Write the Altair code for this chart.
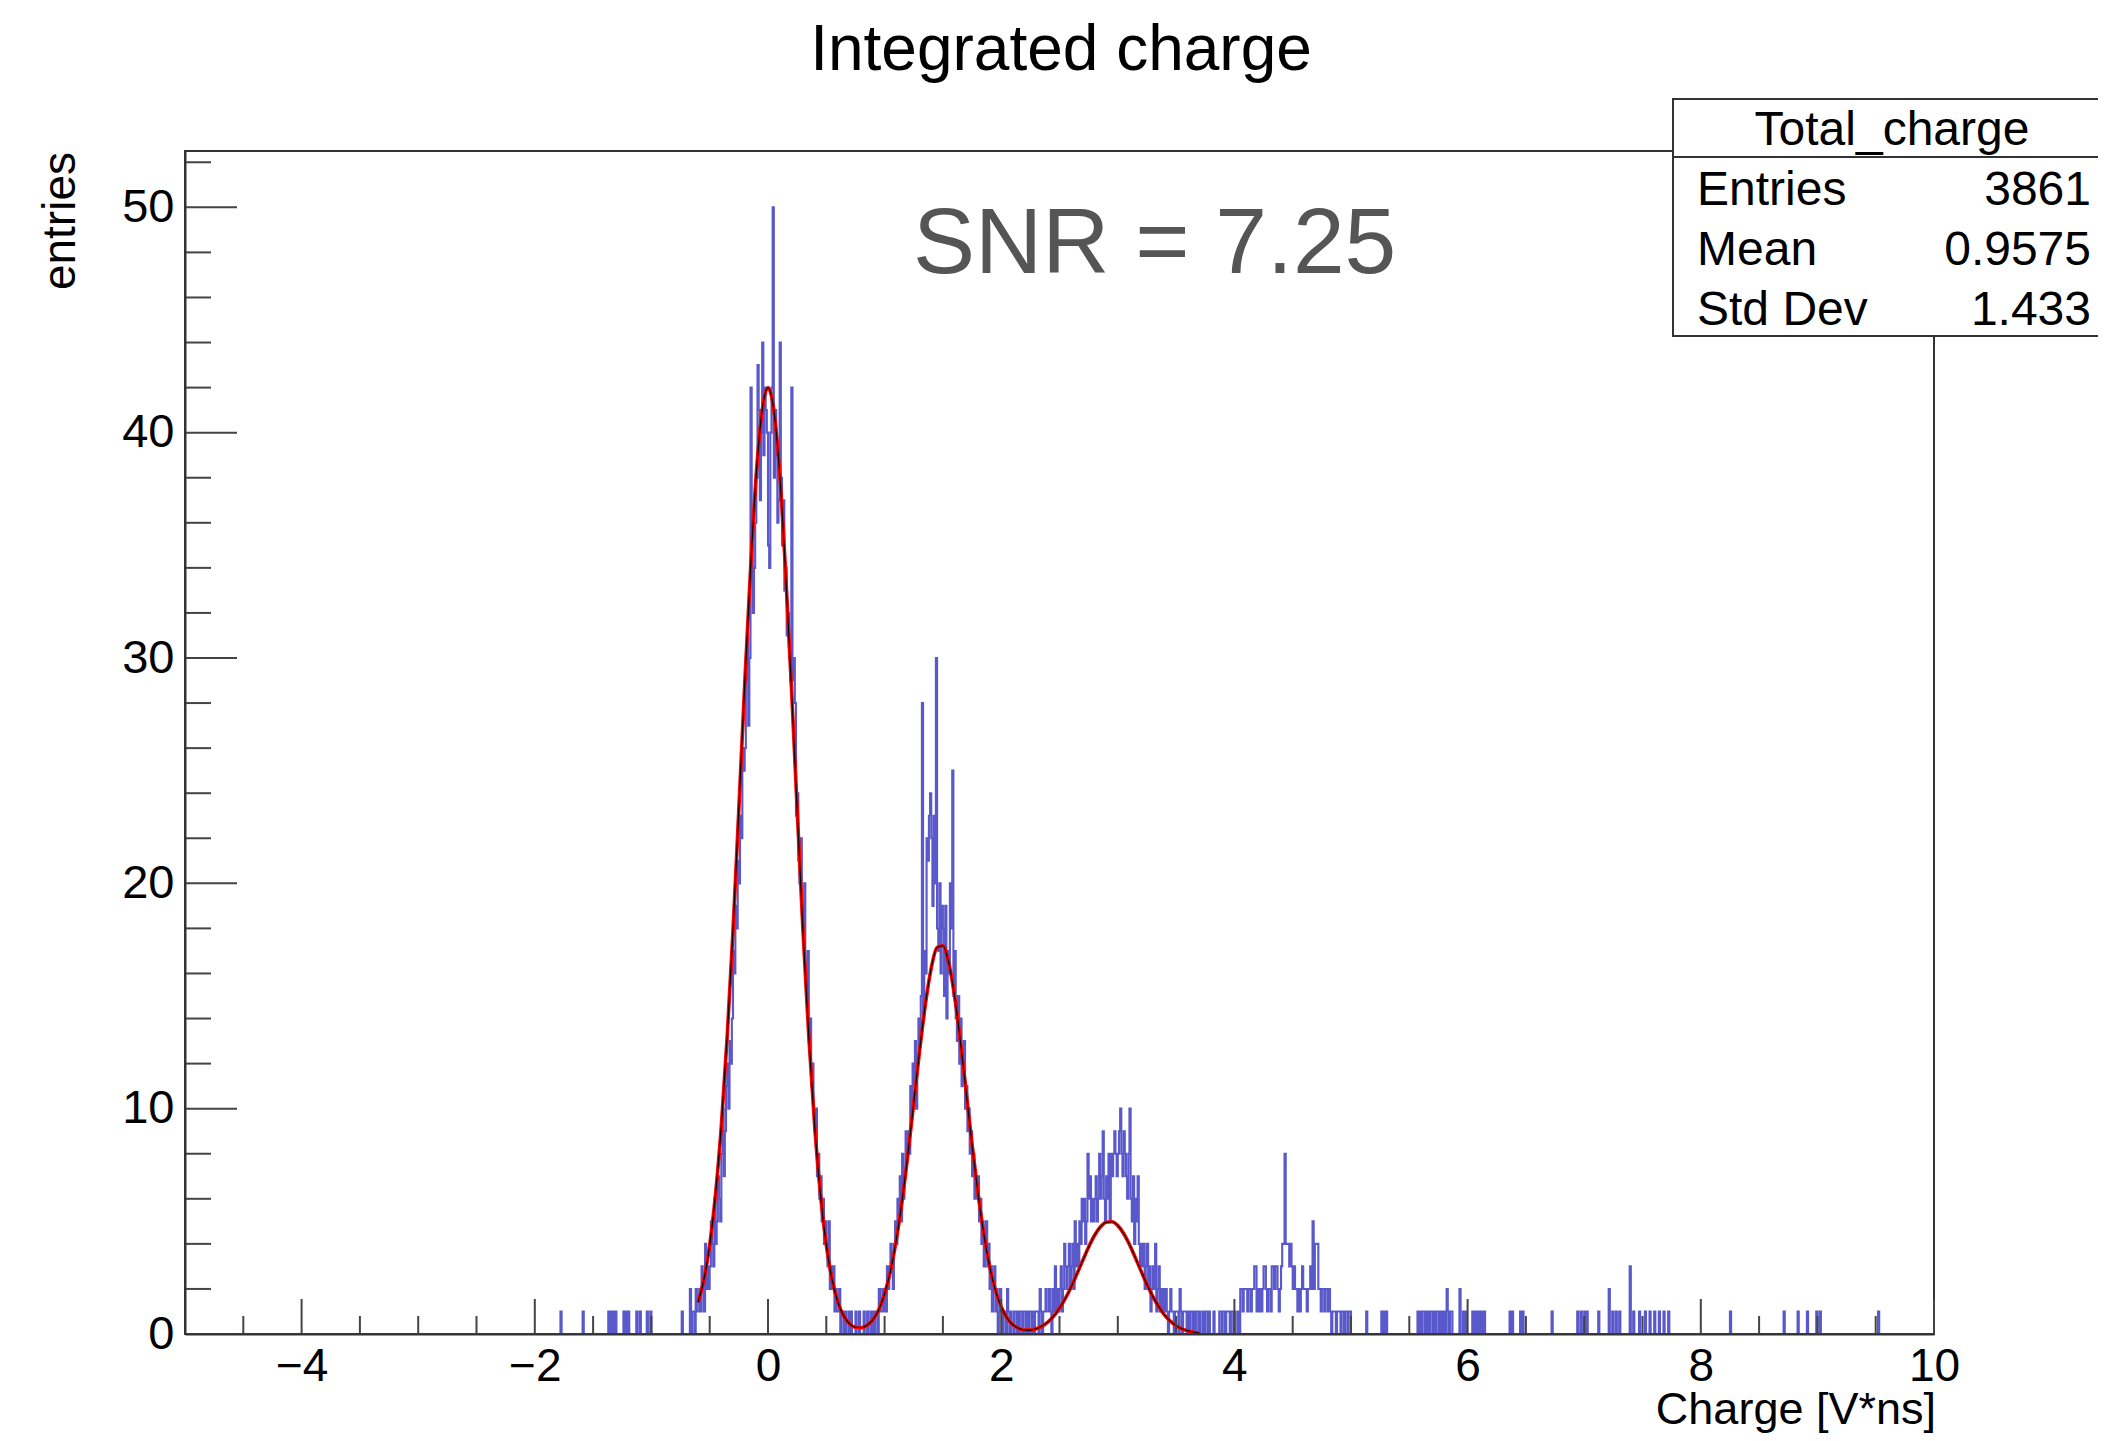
import altair as alt
import pandas as pd

FONT = "Liberation Sans, Arial, Helvetica, sans-serif"
W, H = 1749, 1183

# ---------------- histogram data (0.01 wide bins from -5 to 10) ----------------
X_LO, X_HI, BIN_W, N_BINS = -5.0, 10.0, 0.01, 1500
Y_HI = 52.5

run_starts = [-0.80, 0.80, 2.20, 3.80]
run_peak0 = [
    0, 0, 0, 0, 0, 0, 1, 0, 0, 0,
    0, 0, 0, 2, 0, 1, 1, 0, 2, 1,
    1, 2, 1, 3, 2, 1, 4, 2, 3, 2,
    3, 5, 4, 3, 6, 4, 5, 7, 6, 5,
    8, 10, 7, 9, 11, 12, 10, 13, 12, 14,
    17, 16, 19, 18, 21, 20, 23, 22, 26, 25,
    26, 29, 31, 27, 30, 42, 35, 32, 34, 36,
    38, 43, 41, 37, 40, 44, 39, 42, 41, 40,
    35, 34, 40, 42, 50, 38, 41, 39, 36, 37,
    44, 38, 35, 37, 33, 34, 31, 32, 30, 29,
    42, 29, 30, 28, 23, 24, 21, 20, 22, 19,
    18, 20, 16, 15, 17, 13, 14, 11, 12, 10,
    9, 10, 7, 8, 6, 7, 5, 6, 4, 5,
    4, 3, 5, 2, 3, 2, 3, 1, 2, 1,
    1, 2, 0, 1, 1, 0, 1, 0, 0, 1,
    0, 1, 0, 0, 0, 1, 0, 0, 1, 0,
]
run_peak1 = [
    0, 0, 1, 0, 0, 1, 0, 0, 1, 0,
    1, 0, 1, 1, 0, 2, 1, 1, 2, 1,
    2, 1, 3, 2, 3, 4, 3, 2, 4, 5,
    4, 6, 5, 7, 5, 8, 6, 7, 9, 8,
    9, 8, 11, 10, 12, 11, 13, 10, 12, 14,
    13, 15, 28, 14, 17, 16, 22, 21, 23, 24,
    22, 19, 23, 20, 30, 18, 17, 20, 16, 19,
    18, 15, 19, 14, 17, 16, 20, 18, 25, 15,
    17, 14, 13, 15, 12, 14, 11, 12, 13, 10,
    11, 9, 10, 8, 9, 7, 8, 6, 7, 6,
    7, 5, 6, 4, 5, 3, 4, 5, 3, 4,
    2, 3, 1, 2, 3, 1, 2, 0, 1, 2,
    1, 0, 1, 1, 0, 2, 1, 0, 1, 0,
    0, 1, 1, 0, 1, 0, 1, 1, 0, 1,
]
run_peak2 = [
    1, 0, 1, 0, 1, 1, 0, 1, 0, 1,
    1, 1, 0, 2, 1, 0, 1, 1, 2, 1,
    1, 2, 1, 0, 2, 1, 3, 1, 2, 1,
    2, 3, 1, 2, 4, 3, 2, 3, 4, 2,
    3, 4, 2, 5, 3, 4, 3, 5, 4, 6,
    5, 6, 4, 5, 8, 6, 7, 5, 6, 5,
    6, 7, 5, 6, 8, 6, 7, 9, 6, 5,
    7, 6, 8, 5, 8, 7, 8, 9, 8, 7,
    8, 9, 10, 8, 7, 9, 8, 7, 6, 8,
    10, 6, 5, 7, 4, 6, 5, 7, 4, 3,
    4, 3, 4, 2, 3, 4, 2, 3, 1, 2,
    3, 2, 4, 1, 2, 3, 1, 2, 1, 2,
    1, 2, 1, 0, 1, 2, 1, 1, 0, 1,
    1, 1, 0, 2, 1, 0, 1, 1, 1, 0,
    1, 0, 1, 1, 0, 1, 0, 1, 1, 0,
    1, 0, 0, 1, 0, 1, 1, 0, 1, 0,
]
run_peak3 = [
    0, 0, 1, 0, 0, 0, 0, 1, 1, 0,
    1, 1, 0, 1, 1, 1, 0, 1, 1, 0,
    1, 0, 0, 1, 0, 2, 2, 1, 2, 2,
    2, 1, 2, 2, 1, 2, 2, 3, 3, 1,
    2, 1, 2, 1, 2, 3, 3, 2, 1, 2,
    2, 1, 3, 3, 2, 3, 3, 2, 1, 2,
    3, 4, 4, 8, 4, 4, 4, 3, 4, 3,
    2, 3, 2, 2, 1, 2, 1, 2, 3, 2,
    2, 2, 1, 2, 2, 3, 2, 5, 2, 4,
    4, 4, 2, 2, 1, 2, 2, 1, 2, 2,
    1, 2, 1, 0, 1, 1, 1, 0, 1, 1,
    1, 0, 1, 1, 0, 1, 1, 0, 1, 1,
]
run_counts = [run_peak0, run_peak1, run_peak2, run_peak3]

single_x = [-1.78, -1.59, -1.37, -1.35, -1.33, -1.31, -1.24, -1.22, -1.20, -1.13,
            -1.10, -1.04, -1.01,
            5.13, 5.26, 5.28, 5.30, 5.57, 5.59, 5.61, 5.62, 5.64, 5.66, 5.68, 5.69,
            5.71, 5.73, 5.74, 5.76, 5.78, 5.80, 5.82, 5.83, 5.85, 5.86, 5.93, 5.96,
            5.98, 6.04, 6.06, 6.08, 6.10, 6.12, 6.14, 6.36, 6.38, 6.45, 6.47, 6.72,
            6.94, 6.97, 7.00, 7.02, 7.12, 7.21, 7.24, 7.27, 7.30, 7.39, 7.42, 7.47,
            7.52, 7.56, 7.60, 7.64, 7.68, 7.72, 8.25, 8.71, 8.83, 8.91, 8.99, 9.02,
            9.52]
single_n = [1, 1, 1, 1, 1, 1, 1, 1, 1, 1,
            1, 1, 1,
            1, 1, 1, 1, 1, 1, 1, 1, 1, 1, 1, 1,
            1, 1, 1, 1, 1, 1, 2, 1, 1, 1, 2, 1,
            1, 1, 1, 1, 1, 1, 1, 1, 1, 1, 1, 1,
            1, 1, 1, 1, 1, 2, 1, 1, 1, 3, 1, 1,
            1, 1, 1, 1, 1, 1, 1, 1, 1, 1, 1, 1,
            1]

counts = [0] * N_BINS
for s, vals in zip(run_starts, run_counts):
    i0 = int(round((s - X_LO) / BIN_W))
    for k, v in enumerate(vals):
        counts[i0 + k] = v
for xv, nv in zip(single_x, single_n):
    counts[int(round((xv - X_LO) / BIN_W))] = nv
centers = [round(X_LO + BIN_W * (i + 0.5), 4) for i in range(N_BINS)]
hist = pd.DataFrame({"x": centers, "n": counts})

# ---------------- fit curve (0.05 steps) ----------------
fit_x = [round(-0.60 + 0.05 * k, 2) for k in range(87)]
fit_y = [1.40, 2.41, 3.95, 6.20, 9.25, 13.2, 17.9, 23.3, 28.8, 33.9, 38.2, 41.0, 42.0,
         41.0, 38.2, 33.9, 28.8, 23.3, 17.9, 13.2, 9.25, 6.20, 3.95, 2.41, 1.41, 0.80,
         0.45, 0.30, 0.28, 0.39, 0.64, 1.08, 1.78,
         2.79, 4.16, 5.90, 7.98, 10.26, 12.56, 14.64, 16.24, 17.15, 17.23, 16.48, 15.0,
         13.0, 10.73, 8.42, 6.29, 4.48, 3.03, 1.95, 1.21,
         0.71, 0.41, 0.25, 0.17, 0.17, 0.23, 0.35, 0.53, 0.79, 1.14, 1.58, 2.09, 2.67,
         3.27, 3.86, 4.37, 4.75, 4.96, 4.98, 4.81,
         4.46, 3.97, 3.39, 2.79, 2.20, 1.67, 1.22, 0.85, 0.57, 0.37, 0.23, 0.14, 0.08,
         0.04]
fit = pd.DataFrame({"x": fit_x, "n": fit_y})

# ---------------- axes / labels ----------------
x_major = [-4, -2, 0, 2, 4, 6, 8, 10]
x_minor = [v / 2 for v in range(-9, 20) if v % 4 != 0]
y_major = [0, 10, 20, 30, 40, 50]
y_minor = [v for v in range(2, 53, 2) if v % 10 != 0]

title_text = "Integrated charge"
snr_text = "SNR = 7.25"
x_title = "Charge [V*ns]"
y_title = "entries"
stats_name = "Total_charge"
stat_labels = ["Entries", "Mean", "Std Dev"]
stat_values = ["3861", "0.9575", "1.433"]

X_SCALE = alt.Scale(domain=[X_LO, X_HI], nice=False, zero=False)
Y_SCALE = alt.Scale(domain=[0, Y_HI], nice=False, zero=False)
X_AXIS = alt.Axis(values=x_major, title=None, grid=False, ticks=False, tickSize=0,
                  domain=True, domainColor="#333333", domainWidth=2,
                  labelFont=FONT, labelFontSize=46, labelColor="#000000",
                  labelPadding=10, labelFlush=False, labelOverlap=False, zindex=1)
Y_AXIS = alt.Axis(values=y_major, title=None, grid=False, ticks=False, tickSize=0,
                  domain=True, domainColor="#333333", domainWidth=2,
                  labelFont=FONT, labelFontSize=47, labelColor="#000000",
                  labelPadding=11, labelFlush=False, labelOverlap=False, zindex=1)

hist_layer = alt.Chart(hist).mark_line(
    interpolate="step", color="#3434c0", strokeWidth=2.1, opacity=0.82
).encode(
    x=alt.X("x:Q", scale=X_SCALE, axis=X_AXIS),
    y=alt.Y("n:Q", scale=Y_SCALE, axis=Y_AXIS),
)

fit_red = alt.Chart(fit).mark_line(
    interpolate="monotone", color="#ff0000", strokeWidth=3.6
).encode(
    x=alt.X("x:Q", scale=X_SCALE, axis=X_AXIS),
    y=alt.Y("n:Q", scale=Y_SCALE, axis=Y_AXIS),
)
fit_black = alt.Chart(fit).mark_line(
    interpolate="monotone", color="#000000", strokeWidth=1.1
).encode(
    x=alt.X("x:Q", scale=X_SCALE, axis=X_AXIS),
    y=alt.Y("n:Q", scale=Y_SCALE, axis=Y_AXIS),
)

TICK_COLOR = "#444444"


def xticks(vals, length):
    return alt.Chart(pd.DataFrame({"v": vals})).mark_rule(
        color=TICK_COLOR, strokeWidth=2
    ).encode(
        x=alt.X("v:Q", scale=X_SCALE, axis=X_AXIS),
        y=alt.value(H), y2=alt.value(H - length),
    )


def yticks(vals, length):
    return alt.Chart(pd.DataFrame({"v": vals})).mark_rule(
        color=TICK_COLOR, strokeWidth=2
    ).encode(
        y=alt.Y("v:Q", scale=Y_SCALE, axis=Y_AXIS),
        x=alt.value(0), x2=alt.value(length),
    )


dummy = pd.DataFrame({"d": [0]})


def text_layer(txt, px, py, size, align="left", baseline="alphabetic", color="#000000", angle=0):
    kw = dict(text=txt, align=align, baseline=baseline, font=FONT, fontSize=size, color=color)
    if angle:
        kw["angle"] = angle
    return alt.Chart(dummy).mark_text(**kw).encode(x=alt.value(px), y=alt.value(py))


# stats box
BOX_L, BOX_R, BOX_T, BOX_B = 1488, 1940, -52, 185
stats_rect = alt.Chart(dummy).mark_rect(
    fill="#ffffff", stroke="#333333", strokeWidth=2
).encode(x=alt.value(BOX_L), x2=alt.value(BOX_R), y=alt.value(BOX_T), y2=alt.value(BOX_B))
stats_sep = alt.Chart(dummy).mark_rule(color="#333333", strokeWidth=2).encode(
    x=alt.value(BOX_L), x2=alt.value(BOX_R), y=alt.value(6)
)

layers = [hist_layer, fit_red, fit_black,
          xticks(x_major, 35), xticks(x_minor, 18),
          yticks(y_major, 52), yticks(y_minor, 26),
          stats_rect, stats_sep,
          text_layer(stats_name, 1707, -6, 48, align="center")]
row_y = [54, 114, 174]
for lab, val, ry in zip(stat_labels, stat_values, row_y):
    layers.append(text_layer(lab, 1512, ry, 48, align="left"))
    layers.append(text_layer(val, 1906, ry, 48, align="right"))

layers += [
    text_layer(title_text, 876, -81, 64, align="center"),
    text_layer(snr_text, 728, 122, 93, align="left", color="#555555"),
    text_layer(x_title, W + 2, H + 90, 45, align="right"),
    text_layer(y_title, -110, 1, 46, align="right", angle=270),
]

chart = alt.layer(*layers).properties(
    width=W, height=H,
    padding={"left": 177, "top": 143, "right": 164, "bottom": 99},
    autosize=alt.AutoSizeParams(type="none"),
    background="#ffffff",
).configure_view(stroke="#333333", strokeWidth=2)

chart.save("out.html", embed_options={"renderer": "svg", "actions": False})
